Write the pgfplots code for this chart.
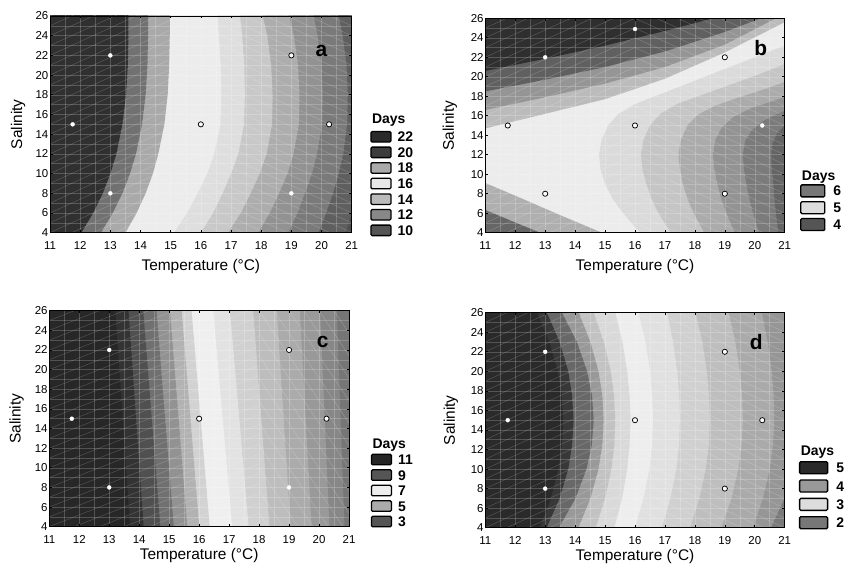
\documentclass[border=0pt]{standalone}
\usepackage{fontspec}
\setmainfont{Liberation Sans}
\usepackage{pgfplots}
\pgfplotsset{compat=1.18}

\tikzset{hl/.style={white, opacity=0.2, line width=0.5bp}}
\pgfplotsset{
  panel/.style={
    scale only axis, anchor=south west,
    xmin=11, xmax=21, xtick={11,...,21},
    ymin=4, ymax=26, ytick={4,6,...,26},
    major tick length=2.5bp, tick align=inside,
    tick style={black, line width=0.6bp},
    axis on top, axis line style={black, line width=0.8bp},
    /pgf/number format/assume math mode=true,
    tick label style={font=\fontsize{11.5}{12}\selectfont, inner sep=1.5bp},
    xticklabel style={yshift=-7.5bp},
    xlabel={Temperature (°C)}, ylabel={Salinity},
    label style={font=\fontsize{15.5}{16}\selectfont},
    legend cell align=left,
    legend style={draw=none, fill=none, inner sep=0pt, anchor=north west,
      font=\bfseries\fontsize{14}{14}\selectfont,
      nodes={inner sep=0pt, text height=10bp, text depth=0pt}},
  },
  band/.style={fill=black!#1, draw=none, forget plot},
  gridl/.style={white, opacity=0.2, line width=0.5bp, forget plot},
  dotS/.style={only marks, mark=*, mark size=2bp, mark options={fill=white, draw=white, line width=0.3bp}, forget plot},
  dotL/.style={only marks, mark=*, mark size=2.6bp, mark options={fill=white, draw=black, line width=0.75bp}, forget plot},
  swatch/.style={fill=black!#1, draw=black, line width=1.3bp, rounded corners=1.2bp},
}
% light mesh of the original rendering: grid, then diagonal lines
\newcommand\gridlines{%
  \pgfplotsinvokeforeach{11.5,12,...,20.5}{\addplot[gridl] coordinates {(##1,3)(##1,27)};}%
  \pgfplotsinvokeforeach{5,6,...,25}{\addplot[gridl] coordinates {(10,##1)(22,##1)};}}
\newcommand\hatch[1]{%
  \begin{scope}\clip (axis cs:11,4) rectangle (axis cs:#1,26);
    \pgfplotsinvokeforeach{-10,...,26}{\draw[hl] (axis cs:11,##1) -- ++(axis direction cs:10,14);}
  \end{scope}
  \begin{scope}\clip (axis cs:#1,4) rectangle (axis cs:21,26);
    \pgfplotsinvokeforeach{4,...,40}{\draw[hl] (axis cs:11,##1) -- ++(axis direction cs:10,-14);}
  \end{scope}}
\newcommand\hatchC{%
  \begin{scope}\clip (axis cs:11,4) rectangle (axis cs:18,26);
    \pgfplotsinvokeforeach{-8,...,26}{\draw[hl] (axis cs:11,##1) -- ++(axis direction cs:10,12);}
  \end{scope}
  \begin{scope}\clip (axis cs:18,4) rectangle (axis cs:21,26);
    \pgfplotsinvokeforeach{13,13.5,...,21}{\draw[hl] (axis cs:##1,26) -- ++(axis direction cs:4.8,-22);}
  \end{scope}}

\begin{document}
\begin{tikzpicture}
\path[use as bounding box] (0,0) rectangle (844bp,569bp);
\clip (0,0) rectangle (844bp,569bp);

% ---------------- panel a
\begin{axis}[panel, at={(50bp,336.3bp)}, width=301.7bp, height=216.7bp,
  ylabel style={at={(axis description cs:-0.106,0.5)}, anchor=center},
  xlabel style={at={(axis description cs:0.5,-0.157)}, anchor=center},
  legend image code/.code={\draw[#1] (0bp,-5.25bp) rectangle (20bp,5.25bp);},
  legend style={at={(1.061,0.553)}, row sep=3.8bp, column sep=6bp}]
\addplot[band=69] coordinates {(10,3)(22,3)(22,27)(10,27)};
\addplot[band=62.7] coordinates {(10,3)(20.7,3)(20.8,4)(21.0,6)(21.2,8)(21.35,10)(21.5,12)(21.6,15)(21.62,18)(21.6,21)(21.48,24)(21.35,26)(21.3,27)(10,27)};
\addplot[band=52.2] coordinates {(10,3)(19.77,3)(19.9,4)(20.15,6)(20.38,8)(20.57,10)(20.72,12)(20.85,15)(20.87,18)(20.83,21)(20.7,24)(20.57,26)(20.5,27)(10,27)};
\addplot[band=42.7] coordinates {(10,3)(18.75,3)(18.9,4)(19.2,6)(19.45,8)(19.68,10)(19.85,12)(20.02,15)(20.04,18)(20.0,21)(19.87,24)(19.74,26)(19.67,27)(10,27)};
\addplot[band=32.2] coordinates {(10,3)(17.72,3)(17.9,4)(18.28,6)(18.59,8)(18.87,10)(19.07,12)(19.25,15)(19.27,18)(19.22,21)(19.08,24)(18.93,26)(18.85,27)(10,27)};
\addplot[band=21.6] coordinates {(10,3)(16.7,3)(16.9,4)(17.32,6)(17.65,8)(17.95,10)(18.18,12)(18.36,15)(18.38,18)(18.33,21)(18.2,24)(18.05,26)(17.97,27)(10,27)};
\addplot[band=12.9] coordinates {(10,3)(15.8,3)(16.0,4)(16.4,6)(16.72,8)(17.0,10)(17.24,12)(17.43,15)(17.46,18)(17.44,21)(17.37,24)(17.3,26)(17.26,27)(10,27)};
\addplot[band=7.5] coordinates {(10,3)(14.85,3)(15.1,4)(15.54,6)(15.89,8)(16.21,10)(16.44,12)(16.65,15)(16.68,18)(16.66,21)(16.6,24)(16.55,26)(16.52,27)(10,27)};
\addplot[band=33.7] coordinates {(10,3)(13.3,3)(13.5,4)(13.87,6)(14.17,8)(14.41,10)(14.59,12)(14.79,15)(14.9,18)(14.95,21)(14.97,24)(14.97,26)(14.97,27)(10,27)};
\addplot[band=55.7] coordinates {(10,3)(12.47,3)(12.69,4)(13.08,6)(13.4,8)(13.65,10)(13.85,12)(14.05,15)(14.17,18)(14.23,21)(14.25,24)(14.25,26)(14.25,27)(10,27)};
\addplot[band=81.2] coordinates {(10,3)(11.82,3)(12.04,4)(12.43,6)(12.75,8)(13.0,10)(13.2,12)(13.4,15)(13.52,18)(13.58,21)(13.6,24)(13.6,26)(13.6,27)(10,27)};
\hatch{16}
\gridlines
\addplot[dotS] coordinates {(11.75,15)(13,22)(13,8)(19,8)};
\addplot[dotL] coordinates {(16,15)(19,22)(20.25,15)};
\node[font=\bfseries\fontsize{21}{21}\selectfont] at (axis cs:20.0,22.47) {a};
\addlegendimage{empty legend}\addlegendentry[text depth=4bp]{\makebox[0pt][l]{\hspace*{-26bp}Days}}
\addlegendimage{swatch=83.5}\addlegendentry{22}
\addlegendimage{swatch=76.5}\addlegendentry{20}
\addlegendimage{swatch=33.3}\addlegendentry{18}
\addlegendimage{swatch=9}\addlegendentry{16}
\addlegendimage{swatch=26.7}\addlegendentry{14}
\addlegendimage{swatch=46.7}\addlegendentry{12}
\addlegendimage{swatch=66.7}\addlegendentry{10}
\end{axis}

% ---------------- panel b
\begin{axis}[panel, at={(485.3bp,336.3bp)}, width=299.4bp, height=214.4bp,
  ylabel style={at={(axis description cs:-0.118,0.5)}, anchor=center},
  xlabel style={at={(axis description cs:0.5,-0.159)}, anchor=center},
  legend image code/.code={\draw[#1] (0bp,-6bp) rectangle (24bp,6bp);},
  legend style={at={(1.051,0.29)}, row sep=3.5bp, column sep=8bp}]
\addplot[band=7.5] coordinates {(10,3)(22,3)(22,28)(10,28)};
\addplot[band=26.7] coordinates {(10,14.0)(11,14.7)(13,16.2)(15,17.7)(17,19.8)(19,22.5)(21,25.6)(21.5,26.5)(22,28)(10,28)};
\addplot[band=41.6] coordinates {(10,15.95)(11,16.6)(13,17.9)(15,19.3)(17,21.0)(19,23.3)(20.7,26)(21.2,26.8)(22,28)(10,28)};
\addplot[band=62.4] coordinates {(10,17.9)(11,18.5)(13,19.7)(15,21.0)(17,22.6)(19,24.6)(20.2,26)(20.6,26.6)(22,28)(10,28)};
\addplot[band=81.6] coordinates {(10,20.0)(11,20.6)(13,21.85)(15,23.2)(17,24.7)(18.6,26)(19,26.4)(22,28)(10,28)};
\addplot[band=31.4] coordinates {(10,10.4)(11,9.1)(12,7.8)(13.5,5.8)(14.9,4)(15.7,3)(10,3)};
\addplot[band=60] coordinates {(10,7.6)(11,6.33)(12,5.05)(12.83,4)(13.6,3)(10,3)};
\addplot[band=14.5] coordinates {(16.3,3.5)(15.9,4.94)(15.55,6.2)(15.25,7.5)(15.0,9)(14.85,10.5)(14.8,12)(14.88,13.5)(15.1,15)(15.45,16.2)(16.0,17.2)(17,18.4)(18,19.6)(19,20.8)(20,22.0)(21,23.2)(21.5,23.8)(22,23.8)(22,3.5)};
\addplot[band=22.7] coordinates {(17.3,3.5)(17.0,4.94)(16.75,6.2)(16.55,7.5)(16.38,9)(16.25,10.5)(16.2,12)(16.28,13.5)(16.5,15)(16.85,16.2)(17.4,17.2)(18.2,18.1)(19.2,19.2)(20.1,20.2)(21,21.3)(21.5,21.9)(22,21.9)(22,3.5)};
\addplot[band=32.9] coordinates {(18.4,3.5)(18.15,4.94)(17.93,6.2)(17.75,7.5)(17.6,9)(17.5,10.5)(17.45,12)(17.53,13.5)(17.75,15)(18.1,16.1)(18.65,17.0)(19.4,17.8)(20.2,18.6)(21,19.45)(21.5,19.95)(22,19.95)(22,3.5)};
\addplot[band=42.4] coordinates {(19.4,3.5)(19.2,4.94)(19.03,6.2)(18.88,7.5)(18.75,9)(18.65,10.5)(18.6,12)(18.68,13.5)(18.9,14.8)(19.3,15.9)(19.9,16.8)(20.5,17.4)(21,17.9)(21.5,18.4)(22,18.4)(22,3.5)};
\addplot[band=51.8] coordinates {(20.19,3.5)(20.05,4.94)(19.93,6.2)(19.82,7.5)(19.72,9)(19.64,10.5)(19.6,12)(19.68,13.4)(19.9,14.5)(20.3,15.5)(20.7,16.1)(21,16.5)(21.5,17.1)(22,17.1)(22,3.5)};
\addplot[band=60.8] coordinates {(20.81,3.5)(20.75,4.94)(20.7,6.2)(20.66,7.5)(20.62,9)(20.57,10.5)(20.55,12)(20.6,13.2)(20.75,14.2)(21,15.0)(21.4,15.9)(22,15.9)(22,3.5)};
\hatch{16}
\gridlines
\addplot[dotS] coordinates {(13,22)(16,24.9)(20.25,15)};
\addplot[dotL] coordinates {(11.75,15)(13,8)(16,15)(19,22)(19,8)};
\node[font=\bfseries\fontsize{21}{21}\selectfont] at (axis cs:20.2,22.9) {b};
\addlegendimage{empty legend}\addlegendentry{\makebox[0pt][l]{\hspace*{-32bp}Days}}
\addlegendimage{swatch=53.3}\addlegendentry{6}
\addlegendimage{swatch=13.3}\addlegendentry{5}
\addlegendimage{swatch=66.7}\addlegendentry{4}
\end{axis}

% ---------------- panel c
\begin{axis}[panel, at={(49.3bp,42.3bp)}, width=299.7bp, height=216bp,
  ylabel style={at={(axis description cs:-0.109,0.5)}, anchor=center},
  xlabel style={at={(axis description cs:0.5,-0.135)}, anchor=center},
  legend image code/.code={\draw[#1] (0bp,-5.25bp) rectangle (20bp,5.25bp);},
  legend style={at={(1.072,0.407)}, row sep=3.7bp, column sep=6bp}]
\addplot[band=53.7] coordinates {(10,3)(22,3)(22,27)(10,27)};
\addplot[band=47] coordinates {(10,3)(20.86,3)(20.58,27)(10,27)};
\addplot[band=40] coordinates {(10,3)(20.36,3)(20.02,27)(10,27)};
\addplot[band=32.9] coordinates {(10,3)(19.77,3)(19.34,27)(10,27)};
\addplot[band=25.9] coordinates {(10,3)(19.07,3)(18.57,27)(10,27)};
\addplot[band=18.4] coordinates {(10,3)(18.37,3)(17.78,27)(10,27)};
\addplot[band=11.4] coordinates {(10,3)(17.68,3)(17.0,27)(10,27)};
\addplot[band=6.3] coordinates {(10,3)(17.13,3)(16.44,27)(10,27)};
\addplot[band=17.6] coordinates {(10,3)(16.38,3)(15.72,27)(10,27)};
\addplot[band=30.2] coordinates {(10,3)(16.03,3)(15.39,27)(10,27)};
\addplot[band=42.7] coordinates {(10,3)(15.63,3)(15.0,27)(10,27)};
\addplot[band=56.1] coordinates {(10,3)(15.18,3)(14.55,27)(10,27)};
\addplot[band=68.6] coordinates {(10,3)(14.73,3)(14.11,27)(10,27)};
\addplot[band=80] coordinates {(10,3)(14.17,3)(13.62,27)(10,27)};
\addplot[band=84.7] coordinates {(10,3)(13.72,3)(13.18,27)(10,27)};
\hatchC
\gridlines
\addplot[dotS] coordinates {(11.75,15)(13,22)(13,8)(19,8)};
\addplot[dotL] coordinates {(16,15)(19,22)(20.25,15)};
\node[font=\bfseries\fontsize{21}{21}\selectfont] at (axis cs:20.12,22.84) {c};
\addlegendimage{empty legend}\addlegendentry[text depth=1bp]{\makebox[0pt][l]{\hspace*{-26bp}Days}}
\addlegendimage{swatch=85}\addlegendentry{11}
\addlegendimage{swatch=66.7}\addlegendentry{9}
\addlegendimage{swatch=6.7}\addlegendentry{7}
\addlegendimage{swatch=33.3}\addlegendentry{5}
\addlegendimage{swatch=66.7}\addlegendentry{3}
\end{axis}

% ---------------- panel d
\begin{axis}[panel, at={(485.3bp,41.3bp)}, width=299.4bp, height=215bp,
  ylabel style={at={(axis description cs:-0.115,0.5)}, anchor=center},
  xlabel style={at={(axis description cs:0.5,-0.133)}, anchor=center},
  legend image code/.code={\draw[#1] (0bp,-6bp) rectangle (28bp,6bp);},
  legend style={at={(1.047,0.385)}, row sep=5bp, column sep=8bp}]
\addplot[band=52.2] coordinates {(10,3)(22,3)(22,27)(10,27)};
\addplot[band=41.2] coordinates {(10,3)(20.4,3)(20.54,4)(20.99,7)(21.3,10)(21.45,12.5)(21.5,15)(21.48,17.5)(21.42,20)(21.29,23)(21.1,26)(21.02,27)(10,27)};
\addplot[band=33.3] coordinates {(10,3)(19.8,3)(19.93,4)(20.27,7)(20.5,10)(20.61,12.5)(20.65,15)(20.63,17.5)(20.565,20)(20.43,23)(20.24,26)(20.16,27)(10,27)};
\addplot[band=25.5] coordinates {(10,3)(18.75,3)(18.88,4)(19.22,7)(19.45,10)(19.56,12.5)(19.6,15)(19.58,17.5)(19.5,20)(19.35,23)(19.13,26)(19.04,27)(10,27)};
\addplot[band=18.4] coordinates {(10,3)(17.72,3)(17.84,4)(18.15,7)(18.36,10)(18.47,12.5)(18.5,15)(18.475,17.5)(18.4,20)(18.25,23)(18.02,26)(17.93,27)(10,27)};
\addplot[band=12.2] coordinates {(10,3)(16.8,3)(16.9,4)(17.18,7)(17.38,10)(17.47,12.5)(17.5,15)(17.48,17.5)(17.41,20)(17.27,23)(17.07,26)(16.99,27)(10,27)};
\addplot[band=7.1] coordinates {(10,3)(15.9,3)(16.0,4)(16.28,7)(16.48,10)(16.57,12.5)(16.6,15)(16.575,17.5)(16.5,20)(16.35,23)(16.12,26)(16.03,27)(10,27)};
\addplot[band=14.9] coordinates {(10,3)(15.22,3)(15.31,4)(15.57,7)(15.74,10)(15.82,12.5)(15.85,15)(15.82,17.5)(15.74,20)(15.58,23)(15.34,26)(15.24,27)(10,27)};
\addplot[band=23.9] coordinates {(10,3)(14.58,3)(14.69,4)(15.0,7)(15.21,10)(15.31,12.5)(15.34,15)(15.3,17.5)(15.19,20)(14.96,23)(14.62,26)(14.48,27)(10,27)};
\addplot[band=40] coordinates {(10,3)(13.96,3)(14.11,4)(14.51,7)(14.78,10)(14.91,12.5)(14.95,15)(14.91,17.5)(14.78,20)(14.51,23)(14.12,26)(13.96,27)(10,27)};
\addplot[band=59.2] coordinates {(10,3)(13.26,3)(13.46,4)(14.01,7)(14.38,10)(14.56,12.5)(14.62,15)(14.565,17.5)(14.4,20)(14.06,23)(13.56,26)(13.36,27)(10,27)};
\addplot[band=78] coordinates {(10,3)(12.89,3)(13.05,4)(13.48,7)(13.77,10)(13.9,12.5)(13.95,15)(13.9,17.5)(13.77,20)(13.48,23)(13.06,26)(12.89,27)(10,27)};
\addplot[band=83.5] coordinates {(10,3)(12.69,3)(12.82,4)(13.19,7)(13.44,10)(13.56,12.5)(13.6,15)(13.555,17.5)(13.42,20)(13.14,23)(12.73,26)(12.565,27)(10,27)};
\hatch{16}
\gridlines
\addplot[dotS] coordinates {(11.75,15)(13,22)(13,8)};
\addplot[dotL] coordinates {(16,15)(19,22)(19,8)(20.25,15)};
\node[font=\bfseries\fontsize{21}{21}\selectfont] at (axis cs:20.05,22.95) {d};
\addlegendimage{empty legend}\addlegendentry[text depth=1bp]{\makebox[0pt][l]{\hspace*{-36bp}Days}}
\addlegendimage{swatch=83.5}\addlegendentry{5}
\addlegendimage{swatch=40}\addlegendentry{4}
\addlegendimage{swatch=13.3}\addlegendentry{3}
\addlegendimage{swatch=53.3}\addlegendentry{2}
\end{axis}
\end{tikzpicture}
\end{document}
